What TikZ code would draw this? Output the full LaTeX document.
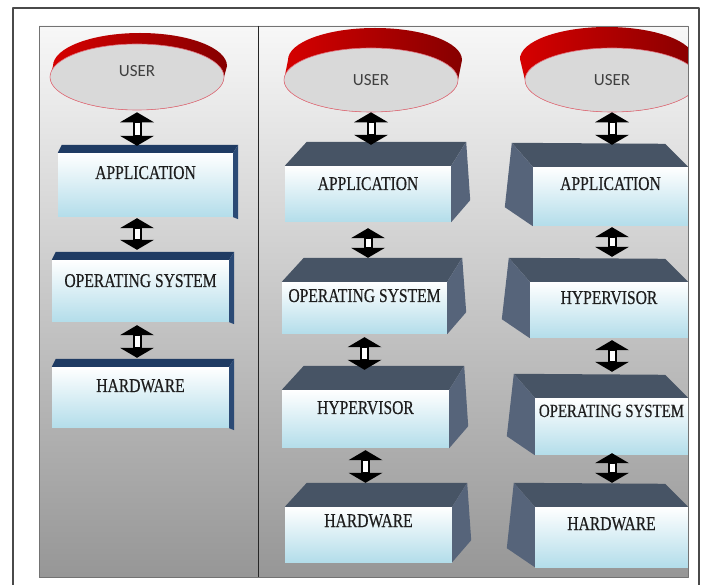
\documentclass[tikz,border=0pt]{standalone}
\usepackage{fontspec}
\setmainfont{Liberation Serif}
\newfontfamily\slabfont[FakeStretch=0.8,FakeBold=0.4]{Liberation Serif}
\newfontfamily\diskfont{Carlito}
\usetikzlibrary{shapes.geometric,arrows.meta,calc}

\definecolor{framegray}{HTML}{4A4A4A}
\definecolor{navytop}{HTML}{1F3B63}
\definecolor{navyside}{HTML}{2B4A75}
\definecolor{slatetop}{HTML}{475465}
\definecolor{slateside}{HTML}{56647A}
\definecolor{facecyan}{HTML}{B3DDEA}
\definecolor{diskgray}{HTML}{D9D9D9}
\definecolor{diskrim}{HTML}{E0707C}
\definecolor{diskred}{HTML}{D60000}
\definecolor{diskdark}{HTML}{860000}
\definecolor{labelink}{HTML}{1E1E1E}

\begin{document}
\begin{tikzpicture}[x=1pt,y=-1pt,line join=round,
  slab/.style={inner sep=0pt, top color=white, bottom color=facecyan,
    text=labelink, font=\slabfont\fontsize{19.5}{22}\selectfont},
  userdisk/.style={ellipse, inner sep=0pt, minimum width=174pt,
    minimum height=64pt, fill=diskgray, draw=diskrim, line width=0.6pt,
    text=black!75, font=\diskfont\fontsize{17}{20}\selectfont},
  diskside/.style={left color=diskred, right color=diskdark},
  updown/.style={draw=black, line width=9pt,
    {Triangle[width=34pt,length=10pt,line width=0pt]}-{Triangle[width=34pt,length=10pt,line width=0pt]},
    postaction={draw=white, line width=5pt, arrows=-, shorten <=10.5pt, shorten >=10.5pt}}]
  % Keep the screenshot frame, pixels as points.
  \useasboundingbox (0,0) rectangle (713,585);

  % Outer frame (open at the bottom, as cropped).
  \draw[framegray,line width=1.2pt] (13,585) -- (13,8) -- (699,8) -- (699,585);

  % Grey panel behind both halves.
  \shade[top color=black!3, middle color=black!20, bottom color=black!41]
    (39,26) rectangle (688,577);

  \begin{scope}
    \clip (39,26) rectangle (688,577);

    % Red rims of the user disks, drawn before the grey tops.
    \shade[diskside] (50,77) arc[start angle=180,end angle=360,x radius=87pt,y radius=33pt]
      -- ++(3,-11) arc[start angle=0,end angle=180,x radius=87pt,y radius=33pt] -- cycle;
    \shade[diskside] (284,80) arc[start angle=180,end angle=360,x radius=87pt,y radius=32pt]
      -- ++(4,-20) arc[start angle=0,end angle=180,x radius=87pt,y radius=32pt] -- cycle;
    \shade[diskside] (525,80) arc[start angle=180,end angle=360,x radius=87pt,y radius=32pt]
      -- ++(-5,-21) arc[start angle=0,end angle=180,x radius=87pt,y radius=32pt] -- cycle;

    \node[userdisk,minimum height=66pt,text height=12pt,text depth=13pt] (user1) at (137,77) {USER};
    \node[userdisk] (user2) at (371,80) {USER};
    \node[userdisk] (user3) at (612,80) {USER};

    % Left half: plain stack.
    \node[slab,minimum width=175pt,text height=26pt,text depth=38pt] (app1) at (145.5,185) {APPLICATION};
    \node[slab,minimum width=177pt,text height=27pt,text depth=35pt] (os1) at (140.5,291) {OPERATING SYSTEM};
    \node[slab,minimum width=177pt,text height=25pt,text depth=36pt] (hw1) at (140.5,397.5) {HARDWARE};

    % Middle: hypervisor under the operating system.
    \node[slab,minimum width=166pt,text height=24pt,text depth=32pt] (app2) at (368,194) {APPLICATION};
    \node[slab,minimum width=165pt,text height=20pt,text depth=32pt] (os2) at (364.5,308) {OPERATING SYSTEM};
    \node[slab,minimum width=167pt,text height=24pt,text depth=34pt] (hyp2) at (365.5,419) {HYPERVISOR};
    \node[slab,minimum width=167pt,text height=20pt,text depth=35pt] (hw2) at (368.5,534.5) {HARDWARE};

    % Right: hypervisor under the application.
    \node[slab,minimum width=155pt,text height=23pt,text depth=36pt] (app3) at (610.5,196.5) {APPLICATION};
    \node[slab,minimum width=158pt,text height=22pt,text depth=34pt] (hyp3) at (609,310) {HYPERVISOR};
    \node[slab,minimum width=153pt,text height=19pt,text depth=38pt,font=\slabfont\fontsize{18.6}{22}\selectfont] (os3) at (611.5,426.5) {OPERATING SYSTEM};
    \node[slab,minimum width=153pt,text height=23pt,text depth=37pt] (hw3) at (611.5,537) {HARDWARE};

    % Top and side faces of the slabs.
    \foreach \n in {app1,os1,hw1}{
      \fill[navytop] (\n.north west) -- ++(4,-8) -- ($(\n.north east)+(5,-8)$) -- (\n.north east) -- cycle;
      \fill[navyside] (\n.north east) -- ++(5,-8) -- ($(\n.south east)+(5,2)$) -- (\n.south east) -- cycle;
    }
    \foreach \n in {app2,os2,hyp2,hw2}{
      \fill[slatetop] (\n.north west) -- ++(22,-24) -- ($(\n.north east)+(15,-24)$) -- (\n.north east) -- cycle;
      \fill[slateside] (\n.north east) -- ++(15,-24) -- ($(\n.south east)+(19,-22)$) -- (\n.south east) -- cycle;
    }
    \foreach \n in {app3,hyp3,os3,hw3}{
      \fill[slatetop] (\n.north east) -- ++(-23,-23) -- ($(\n.north west)+(-21,-24)$) -- (\n.north west) -- cycle;
      \fill[slateside] (\n.north west) -- ++(-21,-24) -- ($(\n.south west)+(-28,-19)$) -- (\n.south west) -- cycle;
    }

    % Two-way arrows between the layers.
    \draw[updown] ($(user1.south)+(0,2)$) -- ($(user1.south |- app1.north)+(0,-7)$);
    \draw[updown] ($(user1.south |- app1.south)+(0,1)$) -- ($(user1.south |- os1.north)+(0,-10)$);
    \draw[updown] ($(user1.south |- os1.south)+(0,3)$) -- ($(user1.south |- hw1.north)+(0,-9)$);

    \draw[updown] (user2.south) -- ($(user2.south |- app2.north)+(0,-21)$);
    \draw[updown] ($(app2.south)+(0,6)$) -- ($(app2.south |- os2.north)+(0,-24)$);
    \draw[updown] ($(os2.south)+(0,3)$) -- ($(os2.south |- hyp2.north)+(0,-20)$);
    \draw[updown] ($(hyp2.south)+(0,2)$) -- ($(hyp2.south |- hw2.north)+(0,-24)$);

    \draw[updown] (user3.south) -- ($(user3.south |- app3.north)+(0,-22)$);
    \draw[updown] ($(user3.south |- app3.south)+(0,1)$) -- ($(user3.south |- hyp3.north)+(0,-25)$);
    \draw[updown] ($(user3.south |- hyp3.south)+(0,2)$) -- ($(user3.south |- os3.north)+(0,-26)$);
    \draw[updown] ($(user3.south |- os3.south)+(0,-2)$) -- ($(user3.south |- hw3.north)+(0,-24)$);
  \end{scope}

  % Panel edge and the divider between the two halves.
  \draw[black!55,line width=0.8pt] (39,26) rectangle (688,577);
  \draw[black!85,line width=1pt] (258,26) -- (258,577);
\end{tikzpicture}
\end{document}
